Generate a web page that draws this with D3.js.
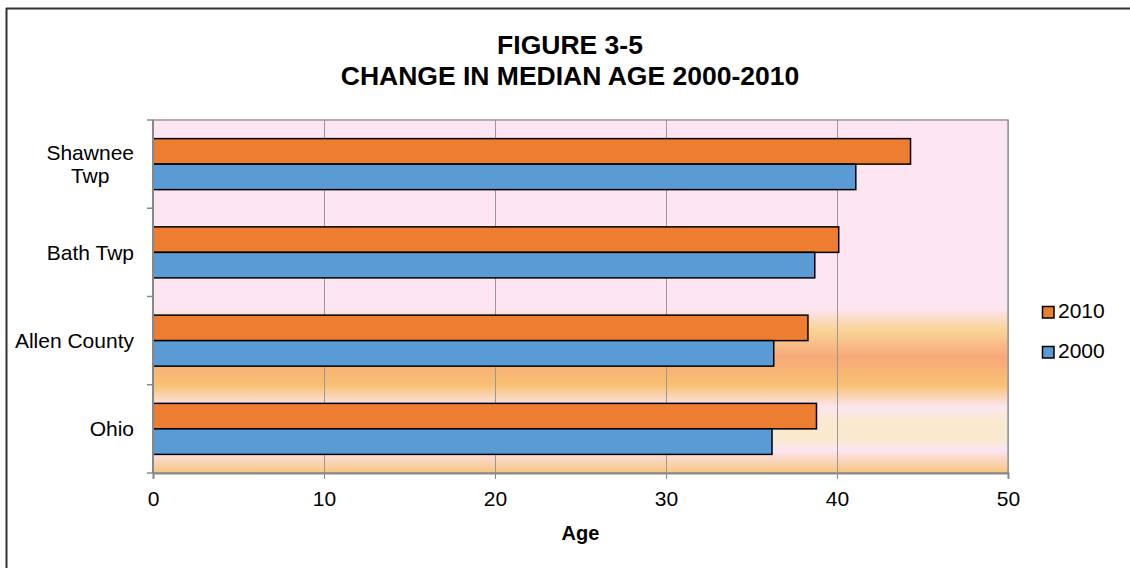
<!DOCTYPE html>
<html>
<head>
<meta charset="utf-8">
<script src="https://cdn.jsdelivr.net/npm/d3@7"></script>
<style>
  html, body { margin: 0; padding: 0; background: #fff; overflow: hidden; }
  svg { display: block; font-family: "Liberation Sans", Arial, sans-serif; }
</style>
</head>
<body>
<svg id="chart" width="1130" height="568"></svg>
<script>
const categories = ["Shawnee Twp", "Bath Twp", "Allen County", "Ohio"];
const seriesNames = ["2010", "2000"];
const values2010 = [44.3, 40.1, 38.3, 38.8];
const values2000 = [41.1, 38.7, 36.3, 36.2];
const xTicks = [0, 10, 20, 30, 40, 50];
const titleLines = ["FIGURE 3-5", "CHANGE IN MEDIAN AGE 2000-2010"];
const xTitle = "Age";
const colors = {"2010": "#ED7D31", "2000": "#5B9BD5"};

const seriesValues = {"2010": values2010, "2000": values2000};

const svg = d3.select("#chart");
const plot = {left: 153, right: 1008, top: 120, bottom: 473};

// outer border (top and left only visible)
svg.append("line").attr("x1", 6).attr("x2", 1130).attr("y1", 8.5).attr("y2", 8.5)
  .attr("stroke", "#333").attr("stroke-width", 2);
svg.append("line").attr("x1", 6.5).attr("x2", 6.5).attr("y1", 8).attr("y2", 568)
  .attr("stroke", "#333").attr("stroke-width", 2);

// background gradient
const defs = svg.append("defs");
const grad = defs.append("linearGradient").attr("id", "bg").attr("x1", 0).attr("y1", 0).attr("x2", 0).attr("y2", 1);
const stops = [
  [0, "#FDE5F1"], [0.535, "#FDE5F1"], [0.595, "#F9D397"], [0.672, "#F8A97A"],
  [0.75, "#F8C172"], [0.812, "#FCE6EF"], [0.855, "#FAE9CF"], [0.905, "#FAE9CF"],
  [0.935, "#FCE5F2"], [1, "#F8C47E"]
];
stops.forEach(s => grad.append("stop").attr("offset", s[0]).attr("stop-color", s[1]));

const x = d3.scaleLinear().domain([0, 50]).range([plot.left, plot.right]);
const y = d3.scaleBand().domain(categories).range([plot.top, plot.bottom]).padding(0);
const ySub = d3.scaleBand().domain(seriesNames).range([0, y.bandwidth()]).paddingInner(0).paddingOuter(0.73);

svg.append("rect").attr("x", plot.left).attr("y", plot.top)
  .attr("width", plot.right - plot.left).attr("height", plot.bottom - plot.top)
  .attr("fill", "url(#bg)");

// gridlines
const grid = svg.append("g").attr("transform", `translate(0,${plot.bottom})`)
  .call(d3.axisBottom(x).tickValues(xTicks).tickSize(-(plot.bottom - plot.top)).tickFormat(""));
grid.select(".domain").remove();
grid.selectAll("line").attr("stroke", "#999").attr("stroke-width", 1);

// plot border
svg.append("rect").attr("x", plot.left).attr("y", plot.top)
  .attr("width", plot.right - plot.left).attr("height", plot.bottom - plot.top)
  .attr("fill", "none").attr("stroke", "#999").attr("stroke-width", 1.5);

// bars
const groups = svg.append("g").selectAll("g").data(categories).join("g")
  .attr("transform", d => `translate(0,${y(d)})`);
groups.selectAll("rect").data((c, i) => seriesNames.map(s => ({s, v: seriesValues[s][i]})))
  .join("rect")
  .attr("x", x(0))
  .attr("y", d => ySub(d.s))
  .attr("width", d => x(d.v) - x(0))
  .attr("height", ySub.bandwidth())
  .attr("fill", d => colors[d.s])
  .attr("stroke", "#000").attr("stroke-width", 1.5);

// x axis
const xAxis = svg.append("g").attr("transform", `translate(0,${plot.bottom})`)
  .call(d3.axisBottom(x).tickValues(xTicks).tickSize(6).tickPadding(12));
xAxis.select(".domain").attr("stroke", "#888").attr("stroke-width", 2);
xAxis.selectAll("line").attr("stroke", "#888");
xAxis.selectAll("text").attr("font-size", 21).attr("fill", "#000")
  .attr("font-family", "Liberation Sans, Arial, sans-serif");

// y axis line and boundary ticks
svg.append("line").attr("x1", plot.left).attr("x2", plot.left).attr("y1", plot.top).attr("y2", plot.bottom)
  .attr("stroke", "#888").attr("stroke-width", 2);
const bounds = categories.map(c => y(c)).concat([plot.bottom]);
svg.append("g").selectAll("line").data(bounds).join("line")
  .attr("x1", plot.left - 6).attr("x2", plot.left).attr("y1", d => d).attr("y2", d => d)
  .attr("stroke", "#888").attr("stroke-width", 1.5);

// y labels
const yLab = svg.append("g");
categories.forEach(c => {
  const cy = y(c) + y.bandwidth() / 2;
  const lines = c === "Shawnee Twp" ? ["Shawnee", "Twp"] : [c];
  const t = yLab.append("text").attr("font-size", 21).attr("fill", "#000");
  if (lines.length === 1) {
    t.attr("x", 134).attr("y", cy + 7.5).attr("text-anchor", "end").text(c);
  } else {
    t.attr("text-anchor", "middle");
    const lh = 23.5;
    const y0 = cy + 7.5 - lh * (lines.length - 1) / 2;
    lines.forEach((l, i) => t.append("tspan").attr("x", 0).attr("y", y0 + i * lh).text(l));
    const w = t.node().getBBox().width;
    t.selectAll("tspan").attr("x", 134 - w / 2);
  }
});

// x title
svg.append("text").attr("x", (plot.left + plot.right) / 2).attr("y", 540)
  .attr("text-anchor", "middle").attr("font-size", 20).attr("font-weight", "bold").text(xTitle);

// title
svg.append("g").selectAll("text").data(titleLines).join("text")
  .attr("x", 570).attr("y", (d, i) => 54 + i * 31)
  .attr("text-anchor", "middle").attr("font-size", 26.5).attr("font-weight", "bold").text(d => d);

// legend
const leg = svg.append("g").selectAll("g").data(seriesNames).join("g")
  .attr("transform", (d, i) => `translate(1042,${306 + i * 40})`);
leg.append("rect").attr("x", 0.5).attr("y", 0.5).attr("width", 11.5).attr("height", 11.5)
  .attr("fill", d => colors[d]).attr("stroke", "#000").attr("stroke-width", 1.5);
leg.append("text").attr("x", 16).attr("y", 12).attr("font-size", 21).text(d => d);
</script>
</body>
</html>
